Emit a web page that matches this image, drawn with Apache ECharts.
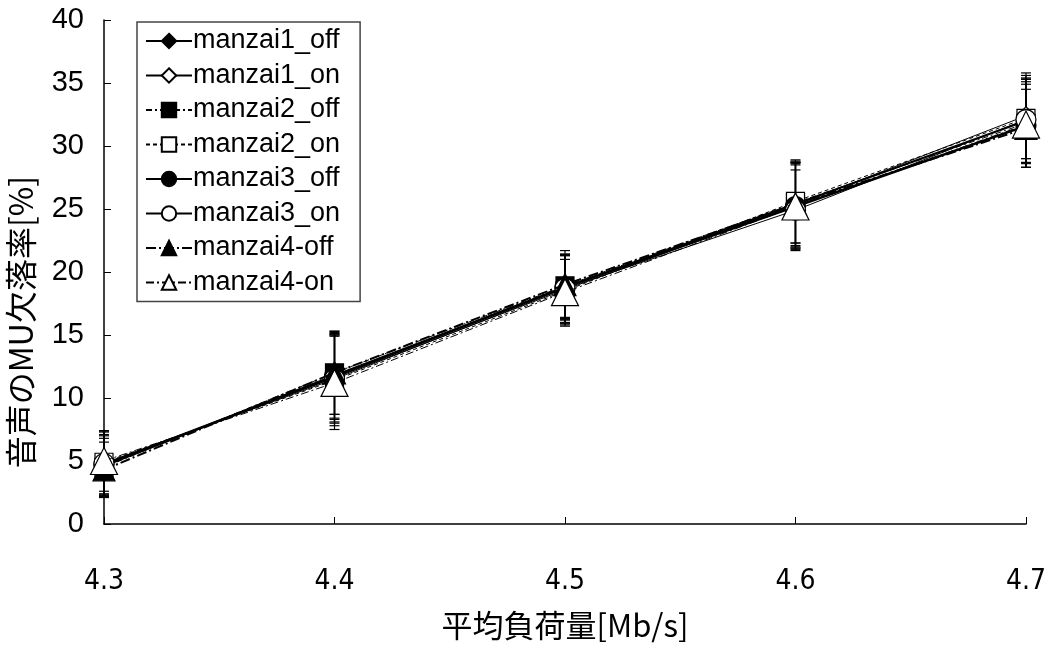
<!DOCTYPE html>
<html>
<head>
<meta charset="utf-8">
<script src="https://cdn.jsdelivr.net/npm/echarts@6/dist/echarts.min.js"></script>
<style>
  html, body { margin: 0; padding: 0; background: #fff; }
  #chart { width: 1049px; height: 646px; }
</style>
</head>
<body>
<div id="chart"></div>
<script>
// Offered load (Mb/s) on the x axis
const loads = ['4.3', '4.4', '4.5', '4.6', '4.7'];
const yTicks = [0, 5, 10, 15, 20, 25, 30, 35, 40];

// Audio MU loss rate [%] per run
const manzai1_off = [4.6, 11.8, 18.8, 25.4, 32.0];
const manzai1_on  = [4.8, 11.6, 18.6, 25.3, 32.4];
const manzai2_off = [4.5, 12.0, 18.9, 25.5, 31.8];
const manzai2_on  = [4.9, 11.4, 18.5, 25.6, 32.2];
const manzai3_off = [4.7, 11.7, 18.8, 25.2, 31.6];
const manzai3_on  = [4.8, 11.5, 18.7, 24.9, 32.1];
const manzai4_off = [4.3, 12.0, 19.0, 25.4, 31.4];
const manzai4_on  = [5.0, 11.2, 18.4, 25.2, 31.7];

// Half-width of the error bars [%]
const err1_off = [2.4, 3.4, 2.6, 3.3, 3.3];
const err1_on  = [2.5, 3.5, 2.7, 3.4, 3.4];
const err2_off = [2.3, 3.3, 2.5, 3.2, 3.5];
const err2_on  = [2.5, 3.6, 2.8, 3.3, 3.2];
const err3_off = [2.4, 3.4, 2.6, 3.4, 3.3];
const err3_on  = [2.6, 3.5, 2.7, 3.2, 3.5];
const err4_off = [2.2, 3.3, 2.7, 3.4, 3.1];
const err4_on  = [2.4, 3.7, 2.6, 3.3, 3.4];

const runs = [
  { name: 'manzai1_off', values: manzai1_off, err: err1_off, symbol: 'diamond', fill: '#000', width: 2, type: 'solid', size: 18 },
  { name: 'manzai1_on',  values: manzai1_on,  err: err1_on,  symbol: 'diamond', fill: '#fff', width: 1, type: 'solid', size: 18 },
  { name: 'manzai2_off', values: manzai2_off, err: err2_off, symbol: 'rect',    fill: '#000', width: 1, type: [6, 3, 2, 3], size: 18 },
  { name: 'manzai2_on',  values: manzai2_on,  err: err2_on,  symbol: 'rect',    fill: '#fff', width: 1, type: [4, 3], size: 18 },
  { name: 'manzai3_off', values: manzai3_off, err: err3_off, symbol: 'circle',  fill: '#000', width: 2.5, type: 'solid', size: 20 },
  { name: 'manzai3_on',  values: manzai3_on,  err: err3_on,  symbol: 'circle',  fill: '#fff', width: 1, type: 'solid', size: 20 },
  { name: 'manzai4-off', values: manzai4_off, err: err4_off, symbol: 'triangle', fill: '#000', width: 2, type: [10, 3, 2, 3], size: 22 },
  { name: 'manzai4-on',  values: manzai4_on,  err: err4_on,  symbol: 'triangle', fill: '#fff', width: 1, type: [8, 3, 2, 3], size: 27 }
];

const FONT = '"Liberation Sans", Arial, sans-serif';
const NARROW = '"Liberation Sans Narrow", "DejaVu Sans Condensed", "Liberation Sans", sans-serif';
const CJK = '"Noto Sans CJK JP", sans-serif';

// Vertical error bar with short horizontal caps
function renderErrorBar(params, api) {
  const lo = api.coord([api.value(0), api.value(1)]);
  const hi = api.coord([api.value(0), api.value(2)]);
  const half = 5;
  const style = { stroke: '#000', lineWidth: 1.2 };
  return {
    type: 'group',
    children: [
      { type: 'line', shape: { x1: lo[0], y1: lo[1], x2: hi[0], y2: hi[1] }, style },
      { type: 'line', shape: { x1: lo[0] - half, y1: lo[1], x2: lo[0] + half, y2: lo[1] }, style },
      { type: 'line', shape: { x1: hi[0] - half, y1: hi[1], x2: hi[0] + half, y2: hi[1] }, style }
    ]
  };
}

const errorSeries = runs.map(r => ({
  type: 'custom',
  name: r.name + ' err',
  renderItem: renderErrorBar,
  encode: { x: 0, y: [1, 2] },
  data: r.values.map((v, i) => [i, v - r.err[i], v + r.err[i]]),
  z: 1,
  silent: true
}));

const lineSeries = runs.map((r, k) => ({
  type: 'line',
  name: r.name,
  data: r.values,
  symbol: r.symbol,
  symbolSize: r.size,
  showAllSymbol: true,
  lineStyle: { color: '#000', width: r.width, type: r.type },
  itemStyle: { color: r.fill, borderColor: '#000', borderWidth: 1.2 },
  z: 2 + k,
  animation: false
}));

const chart = echarts.init(document.getElementById('chart'), null, { renderer: 'canvas' });
chart.setOption({
  backgroundColor: '#fff',
  animation: false,
  grid: { left: 104, right: 19, top: 20, bottom: 109 },
  xAxis: {
    type: 'category',
    data: loads,
    boundaryGap: false,
    axisLine: { lineStyle: { color: '#000', width: 1.5 } },
    axisTick: { inside: true, length: 7, lineStyle: { color: '#000', width: 1 } },
    axisLabel: { color: '#000', fontSize: 28, fontFamily: NARROW, margin: 44 },
    name: '平均負荷量[Mb/s]',
    nameLocation: 'middle',
    nameGap: 86,
    nameTextStyle: { color: '#000', fontSize: 31, fontFamily: CJK }
  },
  yAxis: {
    type: 'value',
    min: yTicks[0],
    max: yTicks[yTicks.length - 1],
    interval: 5,
    splitLine: { show: false },
    axisLine: { show: true, lineStyle: { color: '#000', width: 1.5 } },
    axisTick: { show: true, inside: true, length: 7, lineStyle: { color: '#000', width: 1 } },
    axisLabel: { color: '#000', fontSize: 29, fontFamily: FONT, margin: 20 }
  },
  legend: {
    orient: 'vertical',
    left: 137,
    top: 22,
    padding: [4, 20, 4, 8],
    backgroundColor: '#fff',
    borderColor: '#444',
    borderWidth: 1.5,
    borderRadius: 0,
    itemWidth: 46,
    itemHeight: 18,
    itemGap: 4.5,
    data: runs.map(r => r.name),
    textStyle: { color: '#000', fontSize: 27, lineHeight: 28, fontFamily: FONT, padding: [2, 0, 0, -4] }
  },
  graphic: [{
    type: 'text',
    left: 5,
    top: 176,
    rotation: Math.PI / 2,
    style: { text: '音声のMU欠落率[%]', fontSize: 32, fontFamily: CJK, fill: '#000' }
  }],
  series: errorSeries.concat(lineSeries)
});
</script>
</body>
</html>
